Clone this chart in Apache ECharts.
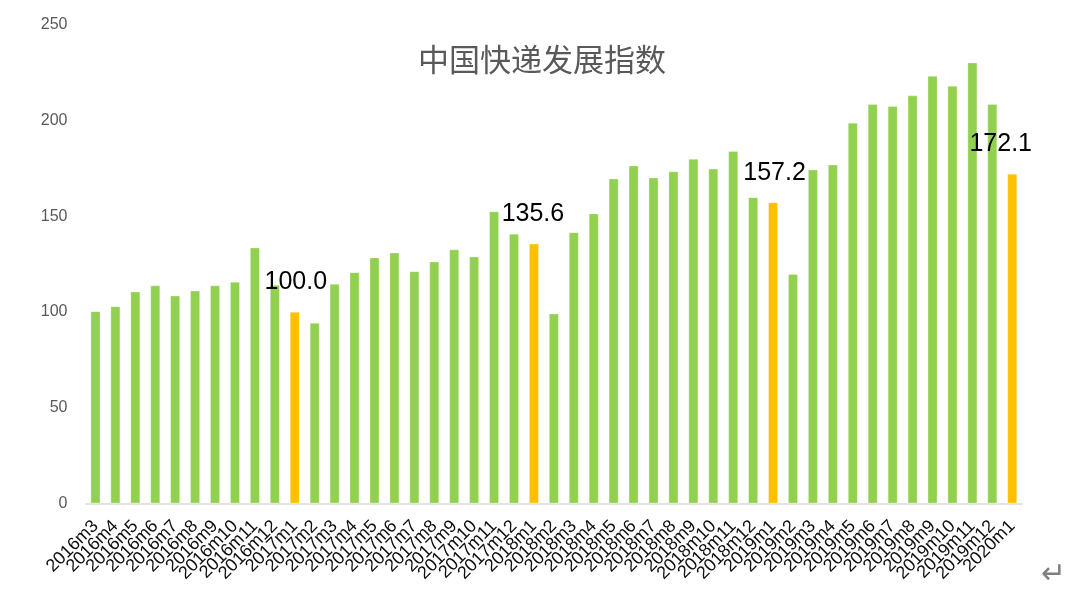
<!DOCTYPE html>
<html>
<head>
<meta charset="utf-8">
<script src="https://cdn.jsdelivr.net/npm/echarts@6/dist/echarts.min.js"></script>
<style>
  html, body { margin: 0; padding: 0; background: #ffffff; }
  #chart { width: 1080px; height: 595px; }
</style>
</head>
<body>
<div id="chart"></div>
<script>
const categories = [
  '2016m3','2016m4','2016m5','2016m6','2016m7','2016m8','2016m9','2016m10','2016m11','2016m12',
  '2017m1','2017m2','2017m3','2017m4','2017m5','2017m6','2017m7','2017m8','2017m9','2017m10','2017m11','2017m12',
  '2018m1','2018m2','2018m3','2018m4','2018m5','2018m6','2018m7','2018m8','2018m9','2018m10','2018m11','2018m12',
  '2019m1','2019m2','2019m3','2019m4','2019m5','2019m6','2019m7','2019m8','2019m9','2019m10','2019m11','2019m12',
  '2020m1'
];
const values = [
  100.3, 102.9, 110.6, 113.8, 108.5, 111.1, 113.8, 115.7, 133.6, 114.1,
  100.0, 94.2, 114.6, 120.7, 128.4, 131.0, 121.2, 126.3, 132.6, 128.9, 152.5, 140.8,
  135.6, 99.1, 141.6, 151.4, 169.7, 176.4, 170.2, 173.4, 180.0, 174.8, 184.0, 159.9,
  157.2, 119.7, 174.4, 176.9, 198.8, 208.6, 207.5, 213.1, 223.4, 218.1, 230.3, 208.6,
  172.1
];
// January bars highlighted and labelled
const highlighted = ['2017m1', '2018m1', '2019m1', '2020m1'];
const yTicks = [0, 50, 100, 150, 200, 250];

// label horizontal nudges (style only)
const labelNudge = { '2017m1': 1, '2018m1': -1, '2019m1': 1.5, '2020m1': -11.5 };

const GREEN = '#92D050';
const YELLOW = '#FFC000';

const seriesData = categories.map((c, i) => {
  const hl = highlighted.includes(c);
  const item = { value: values[i], itemStyle: { color: hl ? YELLOW : GREEN } };
  if (hl) {
    item.label = {
      show: true,
      position: 'top',
      distance: 17,
      offset: [labelNudge[c] || 0, 0],
      formatter: (p) => Number(p.value).toFixed(1),
      fontSize: 25,
      color: '#000000',
      fontFamily: 'Liberation Sans, Arial, sans-serif'
    };
  }
  return item;
});

const chart = echarts.init(document.getElementById('chart'), null, { renderer: 'canvas' });
chart.setOption({
  animation: false,
  backgroundColor: '#ffffff',
  title: {
    text: '中国快递发展指数',
    left: 537,
    top: 39,
    textAlign: 'center',
    textStyle: {
      fontSize: 31,
      fontWeight: 'normal',
      color: '#595959',
      fontFamily: 'Noto Sans CJK SC, sans-serif'
    }
  },
  grid: { left: 85.5, right: 57.8, top: 25, bottom: 91.7, containLabel: false },
  xAxis: {
    type: 'category',
    data: categories,
    axisLine: { show: true, lineStyle: { color: '#d9d9d9', width: 1.5 } },
    axisTick: { show: false },
    axisLabel: {
      interval: 0,
      rotate: 45,
      fontSize: 18,
      color: '#0d0d0d',
      margin: 20,
      fontFamily: 'Liberation Sans, Arial, sans-serif'
    }
  },
  yAxis: {
    type: 'value',
    min: yTicks[0],
    max: yTicks[yTicks.length - 1],
    interval: 50,
    axisLine: { show: false },
    axisTick: { show: false },
    splitLine: { show: false },
    axisLabel: {
      fontSize: 16,
      color: '#595959',
      margin: 18,
      fontFamily: 'Liberation Sans, Arial, sans-serif'
    }
  },
  series: [{
    type: 'bar',
    data: seriesData,
    barWidth: '48%',
    itemStyle: { borderColor: 'rgba(255,255,255,0.6)', borderWidth: 0.5 }
  }],
  graphic: [{
    type: 'text',
    left: 1041,
    top: 560,
    style: {
      text: '↵',
      fontSize: 30,
      fill: '#7f7f7f',
      fontFamily: 'DejaVu Sans, sans-serif'
    }
  }]
});
</script>
</body>
</html>
